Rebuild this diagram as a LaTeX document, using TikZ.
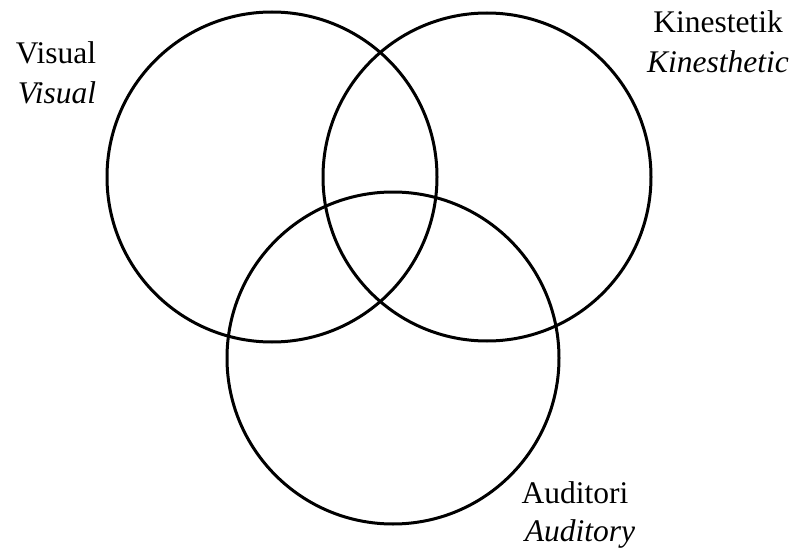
\documentclass[tikz,border=0pt]{standalone}
\usepackage{fontspec}
\setmainfont{Liberation Serif}
\begin{document}
\begin{tikzpicture}[x=1pt,y=-1pt,
  ring/.style={circle,draw=black,line width=3pt,inner sep=0pt,minimum size=#1},
  lab/.style={anchor=base,inner sep=0pt,font=\fontsize{31.5}{38}\selectfont},
  ilab/.style={lab,font=\fontsize{31.5}{38}\selectfont\itshape}]
\useasboundingbox (0,0) rectangle (796,551);
\node[ring=330pt] (cvis) at (272,177) {};
\node[ring=328pt] (ckin) at (487,177) {};
\node[ring=332pt] (caud) at (393,358) {};
\node[lab] (visA) at (56,64) {Visual};
\node[ilab] (visB) at (57,103) {Visual};
\node[lab] (kinA) at (718,33) {Kinestetik};
\node[ilab] (kinB) at (718,73) {Kinesthetic};
\node[lab] (audA) at (575,503) {Auditori};
\node[ilab] (audB) at (580,541) {Auditory};
\end{tikzpicture}
\end{document}
